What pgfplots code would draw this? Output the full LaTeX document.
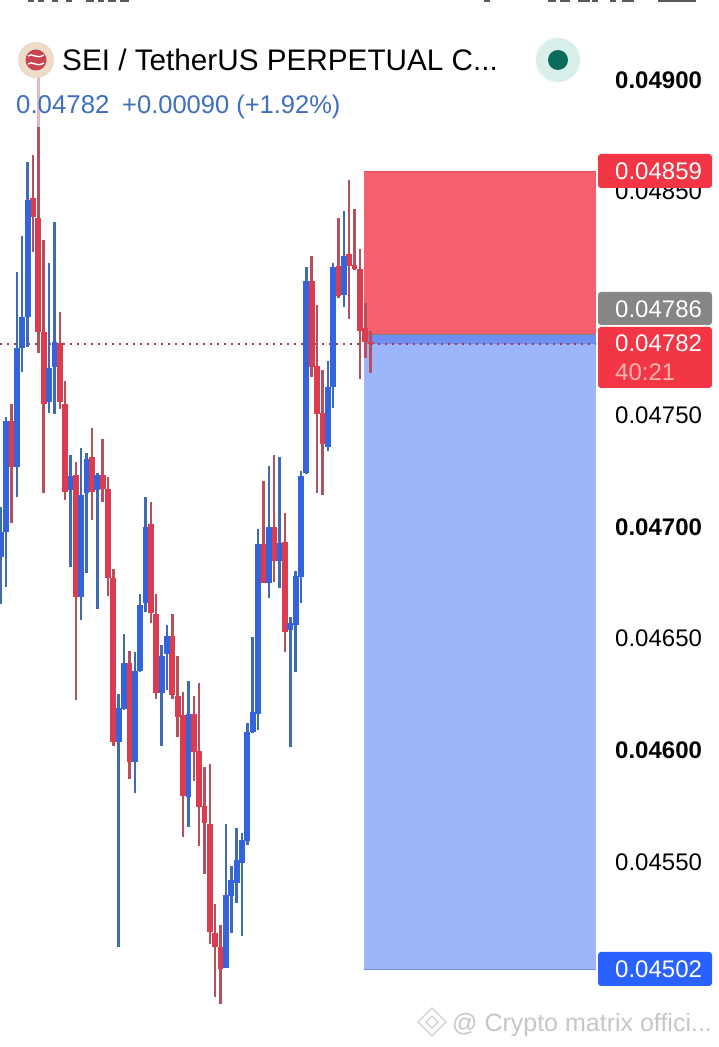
\documentclass[border=0pt]{standalone}
\usepackage{fontspec}
\setmainfont{Liberation Sans}
\usepackage{pgfplots}
\usepackage{pgfplotstable}
\pgfplotsset{compat=1.18}

\definecolor{upbody}{HTML}{3464DC}
\definecolor{downbody}{HTML}{DC3C50}
\definecolor{upwick}{HTML}{3F6CB0}
\definecolor{downwick}{HTML}{B5505F}
\definecolor{lastprice}{HTML}{A83A4C}
\definecolor{redzone}{HTML}{F6606E}
\definecolor{redzoneline}{HTML}{D9505F}
\definecolor{bluezone}{HTML}{9DB5FB}
\definecolor{bluefill}{HTML}{6F8FF0}
\definecolor{tagred}{HTML}{F23645}
\definecolor{tagblue}{HTML}{2962FF}
\definecolor{taggray}{HTML}{868686}
\definecolor{legendblue}{HTML}{3F6FBF}
\definecolor{seibg}{HTML}{EFDCC8}
\definecolor{seired}{HTML}{C8424F}
\definecolor{dotbg}{HTML}{D9EFEB}
\definecolor{dotfg}{HTML}{0B6B5A}
\definecolor{wmark}{HTML}{D8D8D8}

% candles by index: open high low close
\pgfplotstableread{
i o h l c
0 0.046865 0.047089 0.046654 0.046977
1 0.046977 0.047492 0.046731 0.047474
3 0.047268 0.048141 0.047133 0.047800
4 0.047800 0.048302 0.047693 0.047939
5 0.047939 0.048633 0.047805 0.048463
9 0.047559 0.048181 0.047509 0.047711
10 0.047715 0.048364 0.047505 0.047827
13 0.047165 0.047321 0.046820 0.047227
15 0.046686 0.047353 0.046583 0.047142
16 0.047151 0.047330 0.046793 0.047304
18 0.047165 0.047241 0.046632 0.047232
22 0.046037 0.046252 0.045119 0.046189
23 0.046184 0.046520 0.046180 0.046390
25 0.045947 0.046440 0.045808 0.046355
26 0.046355 0.046699 0.046350 0.046650
27 0.046659 0.047133 0.046619 0.046999
30 0.046256 0.046471 0.046019 0.046422
31 0.046431 0.046560 0.046270 0.046511
35 0.045791 0.046310 0.045656 0.046162
42 0.045025 0.045670 0.045025 0.045352
43 0.045347 0.045482 0.045182 0.045419
44 0.045406 0.045652 0.045316 0.045509
45 0.045495 0.045629 0.045168 0.045598
46 0.045594 0.046122 0.045576 0.046081
47 0.046081 0.046507 0.046077 0.046171
48 0.046162 0.046990 0.046090 0.046923
50 0.046748 0.047272 0.046681 0.046999
52 0.046847 0.047312 0.046726 0.046928
54 0.046538 0.046596 0.046014 0.046569
55 0.046560 0.046802 0.046350 0.046780
56 0.046775 0.047250 0.046659 0.047227
57 0.047241 0.048163 0.047236 0.048100
61 0.047357 0.047742 0.047339 0.047626
62 0.047626 0.048181 0.047532 0.048163
64 0.048038 0.048414 0.047984 0.048212
}\upcandles

\pgfplotstableread{
i o h l c
2 0.047474 0.047550 0.047017 0.047268
6 0.048472 0.048664 0.048230 0.048387
7 0.048382 0.049013 0.047778 0.047872
8 0.047872 0.048284 0.047151 0.047550
11 0.047823 0.047962 0.047527 0.047559
12 0.047550 0.047653 0.047120 0.047156
14 0.047232 0.047290 0.046225 0.046686
17 0.047312 0.047442 0.047030 0.047156
19 0.047232 0.047393 0.047111 0.047169
20 0.047169 0.047223 0.046690 0.046771
21 0.046771 0.046811 0.046019 0.046037
24 0.046390 0.046444 0.045871 0.045947
28 0.047013 0.047111 0.046569 0.046614
29 0.046610 0.046699 0.046229 0.046256
32 0.046511 0.046610 0.046229 0.046247
33 0.046243 0.046422 0.046059 0.046149
34 0.046158 0.046260 0.045611 0.045795
36 0.046162 0.046243 0.045862 0.045992
37 0.045996 0.046301 0.045571 0.045746
38 0.045750 0.045925 0.045446 0.045674
39 0.045670 0.045938 0.045133 0.045186
40 0.045182 0.045312 0.044895 0.045119
41 0.045119 0.045218 0.044864 0.045021
49 0.046923 0.047205 0.046748 0.046748
51 0.046999 0.047321 0.046753 0.046847
53 0.046932 0.047062 0.046440 0.046529
58 0.048100 0.048212 0.047671 0.047715
59 0.047720 0.047993 0.047151 0.047505
60 0.047509 0.047702 0.047142 0.047371
63 0.048167 0.048382 0.048024 0.048033
65 0.048221 0.048552 0.047930 0.048167
66 0.048172 0.048423 0.048150 0.048154
67 0.048154 0.048243 0.047662 0.047876
68 0.047890 0.048002 0.047756 0.047827
69 0.047827 0.047876 0.047688 0.047818
}\downcandles

\begin{document}
\begin{tikzpicture}
\fill[white] (0,0) rectangle (719pt,1047pt);
\useasboundingbox (0,0) rectangle (719pt,1047pt);
\begin{axis}[
  scale only axis,
  width=605pt,
  height=1047pt,
  xmin=-0.149, xmax=112.72,
  ymin=0.0446714, ymax=0.0493581,
  axis x line=none,
  axis y line*=right,
  y axis line style={draw=none},
  major tick length=0pt,
  scaled y ticks=false,
  ytick={0.049,0.0485,0.0475,0.047,0.0465,0.046,0.0455},
  yticklabels={\textbf{0.04900},0.04850,0.04750,\textbf{0.04700},0.04650,\textbf{0.04600},0.04550},
  y tick label style={anchor=west,inner sep=0pt,xshift=10pt,
    font=\fontsize{24}{24}\selectfont},
]
% position box
\addplot[fill=redzone,draw=none] coordinates {(67.76,0.04859)(111.04,0.04859)(111.04,0.04786)(67.76,0.04786)} -- cycle;
\addplot[fill=bluezone,draw=none] coordinates {(67.76,0.04786)(111.04,0.04786)(111.04,0.04502)(67.76,0.04502)} -- cycle;
\addplot[fill=bluefill,draw=none] coordinates {(67.76,0.04786)(111.04,0.04786)(111.04,0.04782)(67.76,0.04782)} -- cycle;
\addplot[color=redzoneline,line width=1.2pt] coordinates {(67.76,0.04859)(111.04,0.04859)};
\addplot[color=gray,line width=1.2pt] coordinates {(67.76,0.04786)(111.04,0.04786)};
\addplot[color=bluefill,line width=1.2pt] coordinates {(67.76,0.04502)(111.04,0.04502)};
% last price line
\addplot[color=lastprice,line width=2pt,dash pattern=on 2pt off 5pt] coordinates {(-0.149,0.04782)(111.04,0.04782)};
% wicks
\addplot[draw=none,mark=none,forget plot,error bars/.cd,y dir=plus,y explicit,error mark=none,
  error bar style={line width=2.5pt,color=upwick}]
  table[x=i,y=l,y error plus expr=\thisrow{h}-\thisrow{l}] {\upcandles};
\addplot[draw=none,mark=none,forget plot,error bars/.cd,y dir=plus,y explicit,error mark=none,
  error bar style={line width=2.5pt,color=downwick}]
  table[x=i,y=l,y error plus expr=\thisrow{h}-\thisrow{l}] {\downcandles};
% bodies
\addplot[draw=none,mark=none,forget plot,error bars/.cd,y dir=plus,y explicit,error mark=none,
  error bar style={line width=5.8pt,color=downbody}]
  table[x=i,y=c,y error plus expr=\thisrow{o}-\thisrow{c}] {\downcandles};
\addplot[draw=none,mark=none,forget plot,error bars/.cd,y dir=plus,y explicit,error mark=none,
  error bar style={line width=5.8pt,color=upbody}]
  table[x=i,y=o,y error plus expr=\thisrow{c}-\thisrow{o}] {\upcandles};
\end{axis}

% annotations, in pixels from the top left
\begin{scope}[x=1pt,y=-1pt,yshift=1047pt]
\fill[white,opacity=0.6] (30,74) rectangle (46,127);
% legend
\fill[seibg] (36,60) circle (18);
\fill[seired] (36,60) circle (10.5);
\draw[white,line width=1.4pt] (28,56) .. controls (32,52) and (36,60) .. (44,55);
\draw[white,line width=1.4pt] (28,64) .. controls (32,60) and (36,68) .. (44,63);
\node[anchor=base west,inner sep=0pt,font=\fontsize{29.7}{30}\selectfont] at (62,71) {SEI / TetherUS PERPETUAL C...};
\node[anchor=base west,inner sep=0pt,text=legendblue,font=\fontsize{25.8}{26}\selectfont] at (16,114) {0.04782};
\node[anchor=base west,inner sep=0pt,text=legendblue,font=\fontsize{25.5}{26}\selectfont] at (122,114) {+0.00090 (+1.92\%)};
\fill[dotbg] (558,60) circle (22);
\fill[dotfg] (558,60) circle (10);
% price tags
\fill[tagred,rounded corners=3pt] (598,154) rectangle (712,188);
\node[anchor=west,inner sep=0pt,text=white,font=\fontsize{24}{24}\selectfont] at (615,171) {0.04859};
\fill[taggray,rounded corners=3pt] (598,292) rectangle (712,325);
\node[anchor=west,inner sep=0pt,text=white,font=\fontsize{24}{24}\selectfont] at (615,309) {0.04786};
\fill[tagred,rounded corners=3pt] (598,327) rectangle (712,388);
\node[anchor=west,inner sep=0pt,text=white,font=\fontsize{24}{24}\selectfont] at (615,343) {0.04782};
\node[anchor=west,inner sep=0pt,text=red!30!white,font=\fontsize{24}{24}\selectfont] at (615,372) {40:21};
\fill[tagblue,rounded corners=3pt] (598,952) rectangle (712,986);
\node[anchor=west,inner sep=0pt,text=white,font=\fontsize{24}{24}\selectfont] at (615,969) {0.04502};
% watermark
\draw[wmark,line width=1.5pt] (432,1008) -- (446,1022) -- (432,1036) -- (418,1022) -- cycle;
\draw[wmark,line width=1.5pt] (432,1016) -- (438,1022) -- (432,1028) -- (426,1022) -- cycle;
\node[anchor=base west,inner sep=0pt,text=black!22,font=\fontsize{25}{26}\selectfont] at (452,1032) {@ Crypto matrix offici...};
% cut-off status bar at the top edge
\foreach \xa/\xb in {28/34,38/44,52/58,66/72,86/94,98/104,108/116,120/129,484/490,548/556,560/570,578/590,592/598,610/616,622/634,658/696}
  \fill[black!65] (\xa,0) rectangle (\xb,2.5);
\end{scope}
\end{tikzpicture}
\end{document}
